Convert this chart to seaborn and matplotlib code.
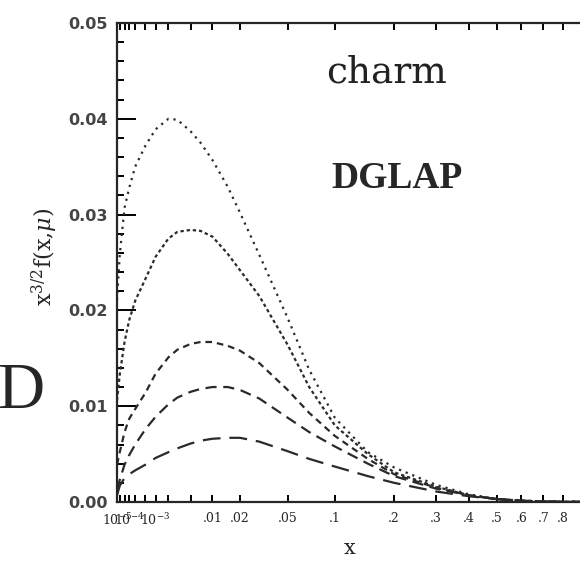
import numpy as np
import pandas as pd
import seaborn as sns
import matplotlib.pyplot as plt

# x grid and the five charm curves x^{3/2} f(x, mu)
x_vals = [1e-5, 2e-5, 5e-5, 1e-4, 2e-4, 5e-4, 1e-3, 2e-3, 3e-3, 5e-3, 7e-3, .01, .015, .02,
          .03, .05, .07, .1, .15, .2, .3, .4, .5, .6, .7, .8, 1.0]
curve1 = [.0211, .0258, .0307, .0328, .0350, .0372, .0389, .0400, .0399, .0387, .0375, .0357, .0329,
          .0302, .0258, .0192, .0138, .0088, .0052, .0036, .0018, .0008, .0003, .00015, .00007, .00003, 0]
curve2 = [.0106, .0133, .0167, .0190, .0210, .0233, .0256, .0275, .0282, .0284, .0283, .0277, .0259,
          .0242, .0215, .0164, .0120, .0080, .0050, .0031, .0016, .0007, .0003, .00015, .00006, .00002, 0]
curve3 = [.0039, .0052, .0073, .0087, .0097, .0114, .0134, .0151, .0159, .0165, .0167, .0167, .0163,
          .0158, .0145, .0117, .0093, .0069, .0045, .0029, .0015, .0007, .0003, .00013, .00005, .00002, 0]
curve4 = [.0013, .0023, .0039, .0049, .0060, .0076, .0089, .0102, .0109, .0115, .0118, .0120, .0120,
          .0117, .0108, .0088, .0073, .0058, .0040, .0027, .0014, .0007, .0003, .00012, .00005, .00002, 0]
curve5 = [.0007, .0017, .0025, .0029, .0033, .0039, .0046, .0052, .0056, .0061, .0064, .0066, .0067,
          .0067, .0063, .0053, .0045, .0037, .0027, .0020, .0011, .0006, .0003, .00012, .00005, .00002, 0]

xtick_vals = [1e-5, 2e-5, 5e-5, 1e-4, 2e-4, 5e-4, 1e-3, 2e-3, 5e-3, .01, .02, .05, .1, .2, .3, .4,
              .5, .6, .7, .8, 1.0]
xtick_labels = [r'$10^{-5}$', '', '', r'$10^{-4}$', '', '', r'$10^{-3}$', '', '', '.01', '.02', '.05',
                '.1', '.2', '.3', '.4', '.5', '.6', '.7', '.8', '1']
decades = [1e-4, 1e-3, .01, .1]

curves = {'c1': curve1, 'c2': curve2, 'c3': curve3, 'c4': curve4, 'c5': curve5}
df = pd.concat([pd.DataFrame({'x': x_vals, 'f': v, 'curve': k}) for k, v in curves.items()])

sns.set_style('ticks')
plt.rcParams['font.family'] = ['DejaVu Sans']
plt.rcParams['mathtext.fontset'] = 'dejavuserif'

fig = plt.figure(figsize=(5.8, 5.64), dpi=100)
ax = fig.add_axes([117 / 580, 62 / 564, 481.5 / 580, 479 / 564])

dashes = {'c1': (1, 2.2), 'c2': (1.5, 1.3), 'c3': (3, 2.2), 'c4': (5, 3), 'c5': (8, 4)}
sns.lineplot(data=df, x='x', y='f', style='curve', dashes=dashes, color='#2a2a2a',
             linewidth=1.6, legend=False, ax=ax, errorbar=None)

ax.set_xscale('function', functions=(np.cbrt, lambda v: np.power(v, 3)))
ax.set_xlim(1e-5, 1)
ax.set_ylim(0, 0.05)

ax.set_xticks(xtick_vals)
ax.set_xticklabels(xtick_labels, family='DejaVu Serif', fontsize=9)
ax.set_xticks(decades, minor=True)
ax.set_yticks(np.arange(0, 0.0501, 0.01))
ax.set_yticklabels(['%.2f' % v for v in np.arange(0, 0.0501, 0.01)], fontsize=11.5,
                   color='#444444', fontweight='bold')
ax.set_yticks(np.arange(0, 0.0501, 0.002), minor=True)

ax.tick_params(which='both', direction='in', top=True, right=True, width=1.4, color='black')
ax.tick_params(axis='x', which='major', length=5, pad=7)
ax.tick_params(axis='x', which='minor', length=11)
ax.tick_params(axis='y', which='major', length=14, pad=7)
ax.tick_params(axis='y', which='minor', length=5)
for s in ax.spines.values():
    s.set_linewidth(1.6)
ax.set_xlabel('')
ax.set_ylabel('')

fig.text(387 / 580, 1 - 73 / 564, 'charm', family='DejaVu Serif', fontsize=27,
         ha='center', va='center', color='#222222')
fig.text(397 / 580, 1 - 178 / 564, 'DGLAP', family='Liberation Serif', fontweight='bold',
         fontsize=27, ha='center', va='center')
fig.text(45 / 580, 1 - 257 / 564, r'x$^{3/2}$f(x,$\mu$)', family='DejaVu Serif', fontsize=16,
         rotation=90, ha='center', va='center')
fig.text(350 / 580, 1 - 548 / 564, 'x', family='DejaVu Serif', fontsize=15, ha='center', va='center')
fig.text(-3 / 580, 1 - 408 / 564, 'D', family='Liberation Serif', fontsize=47, ha='left',
         va='baseline')

fig.savefig('out.png', dpi=100)
